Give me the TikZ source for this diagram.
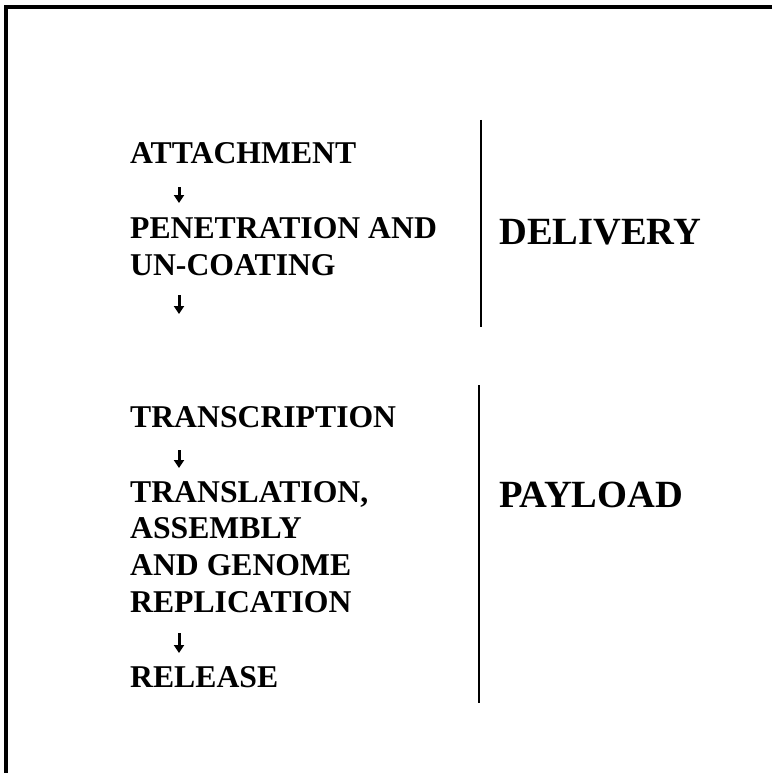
\documentclass[tikz,border=0pt]{standalone}
\usepackage{fontspec}
\setmainfont{Liberation Serif}
\usetikzlibrary{arrows.meta}
\begin{document}
\begin{tikzpicture}[x=1pt,y=-1pt,
  steptext/.style={anchor=base west,inner sep=0pt,font=\bfseries\fontsize{31.7}{37}\selectfont},
  phasetext/.style={anchor=base west,inner sep=0pt,font=\bfseries\fontsize{38.5}{44}\selectfont},
  flow/.style={line width=3pt,-{Triangle[length=8pt,width=10pt]}},
  rule/.style={line width=2.4pt},
  frame/.style={line width=3.2pt}]
\useasboundingbox (0,0) rectangle (772,773);

% open frame: top and left edges
\coordinate (fTL) at (6,7);
\coordinate (fTR) at (772,7);
\coordinate (fBL) at (6,773);
\draw[frame] (fTR) -- (fTL) -- (fBL);

% delivery steps
\node[steptext] (attach) at (130,163) {ATTACHMENT};
\node[steptext] (pen1) at (130,238) {PENETRATION AND};
\node[steptext] (pen2) at (130,275) {UN-COATING};

% payload steps
\node[steptext] (transc) at (130,427) {TRANSCRIPTION};
\node[steptext] (transl1) at (130,502) {TRANSLATION,};
\node[steptext] (transl2) at (130,538) {ASSEMBLY};
\node[steptext] (transl3) at (130,575) {AND GENOME};
\node[steptext] (transl4) at (130,612) {REPLICATION};
\node[steptext] (release) at (130,687) {RELEASE};

% step arrows
\coordinate (a1s) at (179,187); \coordinate (a1e) at (179,203);
\coordinate (a2s) at (179,295); \coordinate (a2e) at (179,314);
\coordinate (a3s) at (179,450); \coordinate (a3e) at (179,468);
\coordinate (a4s) at (179,633); \coordinate (a4e) at (179,653);
\draw[flow] (a1s) -- (a1e);
\draw[flow] (a2s) -- (a2e);
\draw[flow] (a3s) -- (a3e);
\draw[flow] (a4s) -- (a4e);

% phase separators
\coordinate (r1t) at (481,120); \coordinate (r1b) at (481,327);
\coordinate (r2t) at (479,385); \coordinate (r2b) at (479,703);
\draw[rule] (r1t) -- (r1b);
\draw[rule] (r2t) -- (r2b);

% phase labels
\node[phasetext] (delivery) at (499,244) {DELIVERY};
\node[phasetext] (payload) at (499,507) {PAYLOAD};
\end{tikzpicture}
\end{document}
